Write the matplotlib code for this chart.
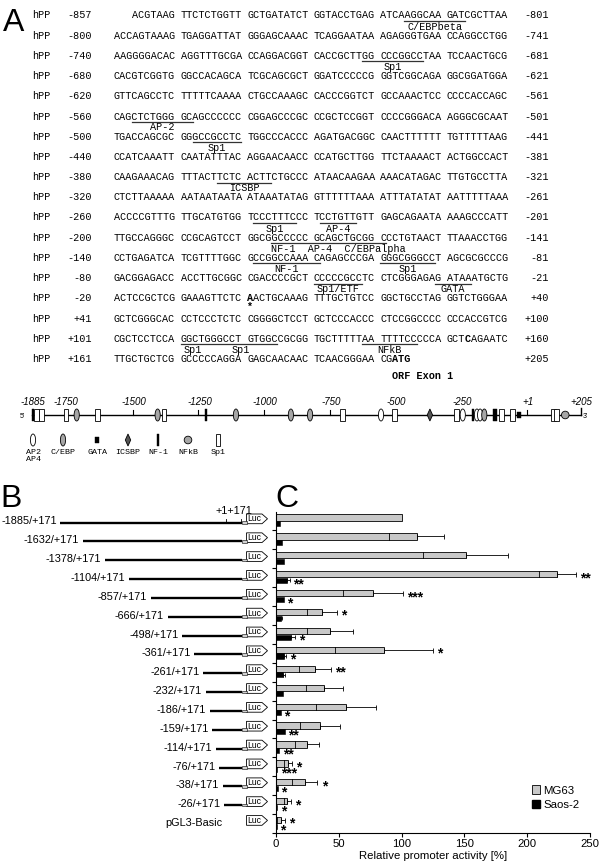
import matplotlib
matplotlib.use('Agg')
import matplotlib.pyplot as plt
from matplotlib.patches import Rectangle, Ellipse, Circle, Polygon, Patch
import numpy as np

SANS = 'Liberation Sans'
MONO = 'Liberation Mono'

# ---------------- panel A: promoter sequence ----------------
seq_rows = [
    "   ACGTAAG TTCTCTGGTT GCTGATATCT GGTACCTGAG ATCAAGGCAA GATCGCTTAA",
    "ACCAGTAAAG TGAGGATTAT GGGAGCAAAC TCAGGAATAA AGAGGGTGAA CCAGGCCTGG",
    "AAGGGGACAC AGGTTTGCGA CCAGGACGGT CACCGCTTGG CCCGGCCTAA TCCAACTGCG",
    "CACGTCGGTG GGCCACAGCA TCGCAGCGCT GGATCCCCCG GGTCGGCAGA GGCGGATGGA",
    "GTTCAGCCTC TTTTTCAAAA CTGCCAAAGC CACCCGGTCT GCCAAACTCC CCCCACCAGC",
    "CAGCTCTGGG GCAGCCCCCC CGGAGCCCGC CCGCTCCGGT CCCCGGGACA AGGGCGCAAT",
    "TGACCAGCGC GGGCCGCCTC TGGCCCACCC AGATGACGGC CAACTTTTTT TGTTTTTAAG",
    "CCATCAAATT CAATATTTAC AGGAACAACC CCATGCTTGG TTCTAAAACT ACTGGCCACT",
    "CAAGAAACAG TTTACTTCTC ACTTCTGCCC ATAACAAGAA AAACATAGAC TTGTGCCTTA",
    "CTCTTAAAAA AATAATAATA ATAAATATAG GTTTTTTAAA ATTTATATAT AATTTTTAAA",
    "ACCCCGTTTG TTGCATGTGG TCCCTTTCCC TCCTGTTGTT GAGCAGAATA AAAGCCCATT",
    "TTGCCAGGGC CCGCAGTCCT GGCGGCCCCC GCAGCTGCGG CCCTGTAACT TTAAACCTGG",
    "CCTGAGATCA TCGTTTTGGC GCCGGCCAAA CAGAGCCCGA GGGCGGGCCT AGCGCGCCCG",
    "GACGGAGACC ACCTTGCGGC CGACCCCGCT CCCCCGCCTC CTCGGGAGAG ATAAATGCTG",
    "ACTCCGCTCG GAAAGTTCTC AACTGCAAAG TTTGCTGTCC GGCTGCCTAG GGTCTGGGAA",
    "GCTCGGGCAC CCTCCCTCTC CGGGGCTCCT GCTCCCACCC CTCCGGCCCC CCCACCGTCG",
    "CGCTCCTCCA GGCTGGGCCT GTGGCCGCGG TGCTTTTTAA TTTTCCCCCA GCTCAGAATC",
    "TTGCTGCTCG GCCCCCAGGA GAGCAACAAC TCAACGGGAA CGATG",
]
left_nums = ['-857', '-800', '-740', '-680', '-620', '-560', '-500', '-440', '-380',
             '-320', '-260', '-200', '-140', '-80', '-20', '+41', '+101', '+161']
right_nums = ['-801', '-741', '-681', '-621', '-561', '-501', '-441', '-381', '-321',
              '-261', '-201', '-141', '-81', '-21', '+40', '+100', '+160', '+205']
# (row, first column, last column + 1, label, label centre column)
underlines = [
    (0, 48, 58, 'C/EBPbeta', 53), (2, 41, 51, 'Sp1', 46), (5, 3, 13, 'AP-2', 8),
    (6, 13, 21, 'Sp1', 17), (8, 17, 26, 'ICSBP', 21.5), (10, 23, 30, 'Sp1', 26.5),
    (10, 34, 40, 'AP-4', 37), (11, 26, 45, '', 0), (12, 23, 34, 'NF-1', 28.5),
    (12, 44, 53, 'Sp1', 48.5), (13, 33, 41, 'Sp1/ETF', 37), (13, 53, 59, 'GATA', 56),
    (16, 11, 27, '', 0), (16, 41, 50, 'NFkB', 45.5),
]
extra_labels = [(11, 'NF-1  AP-4  C/EBPalpha', 26), (16, 'Sp1', 11.5), (16, 'Sp1', 19.5)]
bold_chars = [(14, 22, 'A'), (16, 58, 'C'), (17, 46, 'ATG')]

# ---------------- promoter map ----------------
map_ticks = [-1500, -1250, -1000, -750, -500, -250, 1]
map_labels = ['-1885', '-1750', '-1500', '-1250', '-1000', '-750', '-500', '-250', '+1', '+205']
map_label_pos = [-1885, -1757, -1500, -1250, -1000, -750, -500, -250, 1, 205]
sites = [('nf1', -1880), ('sp1', -1866), ('sp1', -1848), ('sp1', -1754), ('cebp', -1713),
         ('sp1', -1633), ('cebp', -1405), ('sp1', -1381), ('nf1', -1222), ('cebp', -1107),
         ('cebp', -898), ('cebp', -825), ('sp1', -701), ('ap', -555), ('sp1', -505),
         ('icsbp', -369), ('sp1', -267), ('ap', -244), ('nf1', -206), ('ap', -190),
         ('ap', -178), ('cebp', -162), ('nf1', -124), ('nf1', -116), ('sp1', -96),
         ('sp1', -54), ('gata', -30), ('sp1', 101), ('sp1', 114), ('nfkb', 146)]
legend_types = ['ap', 'cebp', 'gata', 'icsbp', 'nf1', 'nfkb', 'sp1']
legend_names = ['AP2\nAP4', 'C/EBP', 'GATA', 'ICSBP', 'NF-1', 'NFkB', 'Sp1']

# ---------------- panels B / C ----------------
constructs = ['-1885/+171', '-1632/+171', '-1378/+171', '-1104/+171', '-857/+171',
              '-666/+171', '-498/+171', '-361/+171', '-261/+171', '-232/+171',
              '-186/+171', '-159/+171', '-114/+171', '-76/+171', '-38/+171',
              '-26/+171', 'pGL3-Basic']
starts = [-1885, -1632, -1378, -1104, -857, -666, -498, -361, -261, -232,
          -186, -159, -114, -76, -38, -26, None]
mg63 = [100, 112, 151, 224, 77, 36.5, 43, 86, 31, 38.5, 56, 35, 24.5, 9.5, 23, 9, 4]
mg63_sd = [0, 22, 34, 15, 24, 12, 18, 39, 13, 14.5, 24, 16, 9.5, 3.5, 10, 3, 3]
saos = [3.5, 5, 6, 9, 6, 4.3, 12, 6.4, 5.8, 5.8, 4, 7.2, 2.6, 1, 1.3, 1, 0.6]
saos_sd = [0, 0, 0, 1.8, 0, 0.8, 3.5, 1.6, 1.6, 0, 0, 0, 0, 0, 0, 0, 0]
mg63_sig = ['', '', '', '**', '***', '*', '', '*', '**', '', '', '', '', '*', '*', '*', '*']
saos_sig = ['', '', '', '**', '*', '', '*', '*', '', '', '*', '**', '**', '***', '*', '*', '*']

fig = plt.figure(figsize=(6, 8.67), dpi=100)
ax0 = fig.add_axes([0, 0, 1, 1])
ax0.set_xlim(0, 600)
ax0.set_ylim(867, 0)
ax0.axis('off')

# panel letters
ax0.text(3, 31, 'A', fontsize=23, family=SANS, va='baseline')
ax0.text(0, 507, 'B', fontsize=23, family=SANS, va='baseline')
ax0.text(275, 507, 'C', fontsize=23, family=SANS, va='baseline')

# sequence, drawn run by run so every character sits on its own column
fs_seq = 7.26
cw = 6.05
x0 = 114
row_y = 15.5 + 20.2 * np.arange(len(seq_rows))
for r, s in enumerate(seq_rows):
    y = row_y[r]
    bold = [False] * len(s)
    for br, bc, bt in bold_chars:
        if br == r:
            for k in range(len(bt)):
                bold[bc + k] = True
    c = 0
    while c < len(s):
        if s[c] == ' ':
            c += 1
            continue
        e = c
        while e < len(s) and s[e] != ' ' and bold[e] == bold[c]:
            e += 1
        ax0.text(x0 + c * cw, y, s[c:e], family=MONO, fontsize=fs_seq, va='center',
                 ha='left', weight='bold' if bold[c] else 'normal')
        c = e
    ax0.text(32, y, 'hPP', family=MONO, fontsize=fs_seq, va='center', ha='left')
    ax0.text(92, y, left_nums[r], family=MONO, fontsize=fs_seq, va='center', ha='right')
    ax0.text(549, y, right_nums[r], family=MONO, fontsize=fs_seq, va='center', ha='right')

for r, c0, c1, lab, lc in underlines:
    y = row_y[r] + 5.5
    ax0.plot([x0 + c0 * cw, x0 + c1 * cw], [y, y], color='#333333', lw=0.9)
    if lab:
        ax0.text(x0 + lc * cw, row_y[r] + 11, lab, family=MONO, fontsize=fs_seq,
                 va='center', ha='center')
for r, lab, c in extra_labels:
    ax0.text(x0 + c * cw, row_y[r] + 11, lab, family=MONO, fontsize=fs_seq,
             va='center', ha='left')
ax0.text(x0 + 22.5 * cw, row_y[14] + 9, '*', family=MONO, fontsize=fs_seq,
         weight='bold', va='center', ha='center')
ax0.text(x0 + 46 * cw, row_y[17] + 17, 'ORF Exon 1', family=MONO, fontsize=fs_seq,
         weight='bold', va='center', ha='left')

# promoter map
my = 415


def mx(bp):
    return 31.5 + (bp + 1885) * 0.2628


ax0.plot([mx(-1885), mx(205)], [my, my], color='black', lw=1.0, zorder=1)
ax0.plot([mx(205), mx(205)], [my, my - 7], color='black', lw=1.0, zorder=1)
for t in map_ticks:
    ax0.plot([mx(t), mx(t)], [my, my - 5], color='black', lw=0.8, zorder=1)
for lab, p in zip(map_labels, map_label_pos):
    ax0.text(mx(p) + 1, my - 13, lab, family=SANS, fontsize=7, style='italic',
             ha='center', va='center')
ax0.text(22, my + 1, "5'", family=SANS, fontsize=5, ha='center', va='center')
ax0.text(585, my + 1, "3'", family=SANS, fontsize=5, ha='center', va='center')


def draw_site(kind, x, y):
    h = 12
    if kind == 'sp1':
        ax0.add_patch(Rectangle((x - 2.4, y - h / 2), 4.8, h, fc='white', ec='black', lw=0.6, zorder=3))
    elif kind == 'cebp':
        ax0.add_patch(Ellipse((x, y), 5.2, h, fc='#a6a6a6', ec='black', lw=0.6, zorder=3))
    elif kind == 'ap':
        ax0.add_patch(Ellipse((x, y), 5.2, h, fc='white', ec='black', lw=0.6, zorder=3))
    elif kind == 'icsbp':
        ax0.add_patch(Polygon([(x, y - h / 2), (x + 2.7, y), (x, y + h / 2), (x - 2.7, y)],
                              closed=True, fc='#555555', ec='black', lw=0.6, zorder=3))
    elif kind == 'nf1':
        ax0.add_patch(Rectangle((x - 1, y - h / 2), 2, h, fc='black', ec='black', lw=0.3, zorder=3))
    elif kind == 'gata':
        ax0.add_patch(Rectangle((x - 2, y - 3), 4, 6, fc='black', ec='black', lw=0.3, zorder=3))
    elif kind == 'nfkb':
        ax0.add_patch(Circle((x, y), 3.8, fc='#a6a6a6', ec='black', lw=0.6, zorder=3))


for kind, bp in sites:
    draw_site(kind, mx(bp), my)

leg_x = [33, 63, 97, 128, 158, 188, 218]
for kind, name, x in zip(legend_types, legend_names, leg_x):
    draw_site(kind, x, 440)
    ax0.text(x, 449, name, family=MONO, fontsize=6, ha='center', va='top', linespacing=0.95)

# panel B: reporter constructs
n = len(constructs)
yc = 521.5 + 18.85 * np.arange(n)


def bx(bp):
    return 226 + bp * 0.0878


ax0.text(234, 511, '+1+171', family=SANS, fontsize=7.8, ha='center', va='center')
ax0.plot([bx(1), bx(1)], [yc[0] - 3, yc[0]], color='black', lw=0.6)
ax0.plot([241, 241], [yc[0] - 3, yc[0]], color='black', lw=0.6)
for i in range(n):
    y = yc[i]
    ax0.add_patch(Polygon([(246.5, y - 7.5), (262, y - 7.5), (267.5, y - 2.7), (262, y + 2.2),
                           (246.5, y + 2.2)], closed=True, fc='white', ec='black', lw=0.6))
    ax0.text(254.5, y - 2.6, 'Luc', family=SANS, fontsize=6.2, ha='center', va='center')
    if starts[i] is not None:
        ax0.plot([bx(starts[i]), 241.5], [y + 1, y + 1], color='black', lw=1.7,
                 solid_capstyle='butt')
        ax0.add_patch(Rectangle((241.5, y - 0.5), 5, 2.7, fc='#d0d0d0', ec='black', lw=0.4))
        lx = bx(starts[i]) - 3.5
    else:
        lx = 222
    ax0.text(lx, y, constructs[i], family=SANS, fontsize=7.8, ha='right', va='center')

# panel C: promoter activity
axc = fig.add_axes([276 / 600, (867 - 833) / 867, 314 / 600, (833 - 511.5) / 867])
idx = np.arange(n)
gy = idx + 0.32
by = idx + 0.64
mg63 = np.array(mg63)
mg63_sd = np.array(mg63_sd)
saos = np.array(saos)
saos_sd = np.array(saos_sd)
axc.barh(gy, mg63, height=0.33, color='#c8c8c8', edgecolor='black', linewidth=0.6, zorder=2)
axc.barh(by, saos, height=0.27, color='black', edgecolor='black', linewidth=0.4, zorder=2)
m = mg63_sd > 0
for lo, yy in zip(mg63[m] - mg63_sd[m], gy[m]):
    axc.plot([lo, lo], [yy - 0.165, yy + 0.165], color='black', lw=0.6, zorder=3)
axc.errorbar(mg63[m], gy[m], xerr=[np.zeros(m.sum()), mg63_sd[m]], fmt='none',
             ecolor='black', elinewidth=0.6, capsize=1.8, capthick=0.6, zorder=3)
s = saos_sd > 0
axc.errorbar(saos[s], by[s], xerr=[np.zeros(s.sum()), saos_sd[s]], fmt='none',
             ecolor='black', elinewidth=0.6, capsize=1.5, capthick=0.6, zorder=3)
for i in idx:
    if mg63_sig[i]:
        axc.annotate(mg63_sig[i], (mg63[i] + mg63_sd[i], gy[i]), xytext=(3, -5.6),
                     textcoords='offset points', fontsize=10, weight='bold', family=SANS,
                     ha='left', va='baseline')
    if saos_sig[i]:
        axc.annotate(saos_sig[i], (saos[i] + saos_sd[i], by[i]), xytext=(2.5, -5.6),
                     textcoords='offset points', fontsize=10, weight='bold', family=SANS,
                     ha='left', va='baseline')

axc.set_xlim(0, 250)
axc.set_ylim(n, 0)
axc.set_xticks([0, 50, 100, 150, 200, 250])
axc.set_yticks(np.arange(1, n + 1))
axc.set_yticklabels([])
axc.tick_params(axis='x', labelsize=8.2, length=3, width=0.8, pad=1.5)
axc.tick_params(axis='y', length=3, width=0.8)
for lab in axc.get_xticklabels():
    lab.set_family(SANS)
axc.spines['top'].set_visible(False)
axc.spines['right'].set_visible(False)
axc.spines['left'].set_linewidth(0.8)
axc.spines['bottom'].set_linewidth(0.8)
axc.set_xlabel('Relative promoter activity [%]', fontsize=8.2, family=SANS, labelpad=1)
handles = [Patch(fc='#c8c8c8', ec='black', lw=0.6), Patch(fc='black', ec='black')]
axc.legend(handles, ['MG63', 'Saos-2'], loc='center right', bbox_to_anchor=(1.0, 0.11),
           frameon=False, handlelength=0.75, handleheight=0.75,
           handletextpad=0.3, labelspacing=0.35, prop={'family': SANS, 'size': 8.2})

fig.savefig('out.png', dpi=100)
